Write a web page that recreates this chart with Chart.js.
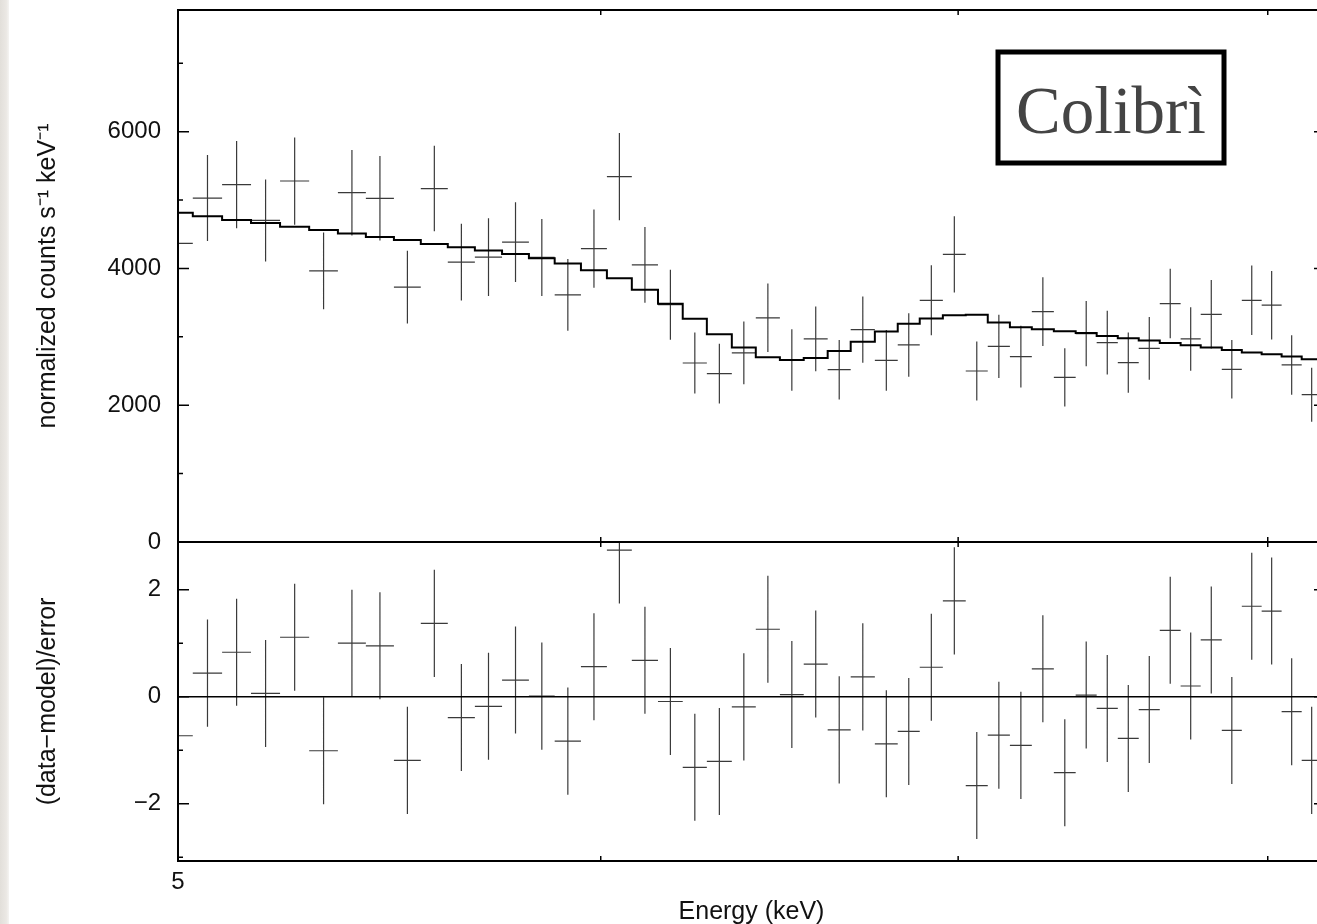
<!DOCTYPE html>
<html lang="en">
<head>
<meta charset="UTF-8">
<title>Colibrì spectrum</title>
<script src="https://cdn.jsdelivr.net/npm/chart.js"></script>
<style>
    html, body { margin: 0; padding: 0; background: white; overflow: hidden; }
    #wrap { position: relative; width: 1317px; height: 924px; overflow: hidden; }
    #spectrum { position: absolute; left: 0; top: 0; }
    #edge {
        position: absolute; left: 0; top: 0; width: 9px; height: 924px;
        background: linear-gradient(to right, #e2dfda, #ebe8e4 70%, #f5f4f2);
    }
</style>
</head>
<body>
<div id="wrap">
    <canvas id="spectrum" width="1330" height="924"></canvas>
    <div id="edge"></div>
</div>
<script>
// channel bin edges (keV), one more than the number of bins
const binEdges = [4.968, 5.032, 5.096, 5.160, 5.225, 5.291, 5.357, 5.422, 5.488, 5.552,
    5.617, 5.683, 5.750, 5.817, 5.882, 5.949, 6.016, 6.081, 6.150, 6.216,
    6.281, 6.349, 6.415, 6.482, 6.549, 6.617, 6.683, 6.753, 6.820, 6.885,
    6.954, 7.023, 7.090, 7.158, 7.226, 7.295, 7.364, 7.431, 7.499, 7.567,
    7.636, 7.705, 7.772, 7.843, 7.911, 7.979, 8.048, 8.118, 8.188];

// normalized counts s^-1 keV^-1
const counts = [4366, 5030, 5226, 4703, 5279, 3966, 5109, 5026, 3726, 5168,
    4092, 4166, 4385, 4161, 3615, 4289, 5343, 4054, 3470, 2618,
    2462, 2765, 3278, 2662, 2970, 2520, 3106, 2656, 2882, 3535,
    4205, 2501, 2862, 2711, 3370, 2408, 3048, 2916, 2623, 2833,
    3487, 2970, 3330, 2525, 3535, 3463, 2589, 2154];
const countErr = [620, 628, 638, 600, 638, 561, 625, 618, 532, 625,
    562, 567, 582, 562, 525, 572, 638, 554, 513, 447,
    436, 459, 501, 451, 474, 435, 484, 445, 464, 513,
    557, 430, 462, 450, 503, 425, 476, 465, 440, 459,
    509, 464, 500, 428, 508, 500, 435, 394];
const model = [4816, 4762, 4708, 4664, 4611, 4561, 4513, 4459, 4415, 4359,
    4312, 4264, 4210, 4151, 4073, 3975, 3858, 3688, 3484, 3263,
    3037, 2843, 2700, 2662, 2692, 2794, 2930, 3077, 3190, 3267,
    3316, 3322, 3209, 3140, 3111, 3081, 3058, 3014, 2979, 2945,
    2911, 2876, 2843, 2809, 2773, 2744, 2711, 2671];

// (data-model)/error, error bars are +-1 by definition
const resid = [-0.73, 0.44, 0.83, 0.06, 1.11, -1.01, 1.00, 0.95, -1.19, 1.37,
    -0.39, -0.18, 0.31, 0.01, -0.83, 0.56, 2.74, 0.68, -0.09, -1.32,
    -1.21, -0.19, 1.26, 0.04, 0.61, -0.62, 0.37, -0.88, -0.65, 0.55,
    1.79, -1.66, -0.72, -0.91, 0.52, -1.42, 0.03, -0.22, -0.78, -0.24,
    1.24, 0.20, 1.06, -0.63, 1.69, 1.60, -0.28, -1.19];

const energyMin = 5, energyMax = 8.2;
const energyTicks = [5, 6, 7, 8];
const countTicks = [0, 2000, 4000, 6000];
const countMinor = [1000, 3000, 5000, 7000];
const residTicks = [-2, 0, 2];
const residMinor = [-3, -1, 1];

const font = '"Liberation Sans", Arial, sans-serif';
Chart.defaults.font.family = font;
Chart.defaults.color = '#111';

// crosses: horizontal bar over the bin, vertical bar over the error, split by gaps
function crosses(vals, errs) {
    const pts = [];
    vals.forEach((v, i) => {
        const e = errs ? errs[i] : 1;
        const c = (binEdges[i] + binEdges[i + 1]) / 2;
        pts.push({x: binEdges[i], y: v}, {x: binEdges[i + 1], y: v}, {x: c, y: null});
        pts.push({x: c, y: v - e}, {x: c, y: v + e}, {x: c, y: null});
    });
    return pts;
}

const modelSteps = model.map((v, i) => ({x: binEdges[i], y: v}));
modelSteps.push({x: binEdges[model.length], y: model[model.length - 1]});

// keep each dataset inside its own panel
const panelClip = {
    id: 'panelClip',
    beforeDatasetDraw(chart, args) {
        const s = chart.scales[args.meta.yAxisID];
        const a = chart.chartArea;
        chart.ctx.save();
        chart.ctx.beginPath();
        chart.ctx.rect(a.left, s.top, a.right - a.left, s.bottom - s.top);
        chart.ctx.clip();
    },
    afterDatasetDraw(chart) {
        chart.ctx.restore();
    }
};

// box frame, inward ticks and the label
const frame = {
    id: 'frame',
    afterDatasetsDraw(chart) {
        const {ctx, chartArea: a, scales} = chart;
        const x = scales.x, yt = scales.yTop, yb = scales.yBot;
        ctx.save();
        ctx.strokeStyle = '#000';
        ctx.lineWidth = 2;
        ctx.strokeRect(a.left, a.top, a.right - a.left, a.bottom - a.top);
        ctx.beginPath();
        ctx.moveTo(a.left, yt.bottom);
        ctx.lineTo(a.right, yt.bottom);
        ctx.stroke();

        ctx.lineWidth = 1.5;
        const yMarks = (s, vals, len) => vals.forEach(v => {
            const p = s.getPixelForValue(v);
            ctx.beginPath();
            ctx.moveTo(a.left, p); ctx.lineTo(a.left + len, p);
            ctx.moveTo(a.right, p); ctx.lineTo(a.right - len, p);
            ctx.stroke();
        });
        yMarks(yt, countTicks, 11);
        yMarks(yt, countMinor, 5);
        yMarks(yb, residTicks, 11);
        yMarks(yb, residMinor, 5);
        energyTicks.forEach(v => {
            const p = x.getPixelForValue(v);
            [[yt.top, 5], [yt.bottom, -5], [yb.top, 5], [yb.bottom, -5]].forEach(([y0, d]) => {
                ctx.beginPath();
                ctx.moveTo(p, y0); ctx.lineTo(p, y0 + d);
                ctx.stroke();
            });
        });

        // "Colibrì" label box
        const bx = a.right - 327, by = a.top + 42, bw = 226, bh = 111;
        ctx.lineWidth = 5;
        ctx.strokeRect(bx, by, bw, bh);
        ctx.fillStyle = '#444';
        ctx.font = '67px "Liberation Serif", serif';
        ctx.textAlign = 'center';
        ctx.textBaseline = 'alphabetic';
        ctx.fillText('Colibrì', bx + bw / 2, by + 81);
        ctx.restore();
    }
};

const tickFont = {family: font, size: 24};
const titleFont = {family: font, size: 25};

new Chart(document.getElementById('spectrum'), {
    type: 'scatter',
    data: {
        datasets: [
            {
                label: 'model',
                data: modelSteps,
                yAxisID: 'yTop',
                showLine: true,
                stepped: 'before',
                borderColor: '#000',
                borderWidth: 2,
                pointRadius: 0
            },
            {
                label: 'data',
                data: crosses(counts, countErr),
                yAxisID: 'yTop',
                showLine: true,
                spanGaps: false,
                borderColor: '#3a3a3a',
                borderWidth: 1.2,
                pointRadius: 0
            },
            {
                label: 'zero',
                data: [{x: energyMin, y: 0}, {x: energyMax, y: 0}],
                yAxisID: 'yBot',
                showLine: true,
                borderColor: '#000',
                borderWidth: 1.5,
                pointRadius: 0
            },
            {
                label: 'residuals',
                data: crosses(resid, null),
                yAxisID: 'yBot',
                showLine: true,
                spanGaps: false,
                borderColor: '#3a3a3a',
                borderWidth: 1.2,
                pointRadius: 0
            }
        ]
    },
    options: {
        responsive: false,
        animation: false,
        devicePixelRatio: 1,
        layout: {padding: {left: 10, top: 10, right: 5, bottom: 0}},
        plugins: {
            legend: {display: false},
            tooltip: {enabled: false}
        },
        scales: {
            x: {
                type: 'logarithmic',
                min: energyMin,
                max: energyMax,
                grid: {display: false, drawTicks: false},
                border: {display: false},
                afterBuildTicks: s => { s.ticks = energyTicks.map(v => ({value: v})); },
                ticks: {
                    autoSkip: false,
                    maxRotation: 0,
                    padding: 7,
                    font: tickFont,
                    callback: v => v === energyTicks[0] ? String(v) : ''
                },
                title: {display: true, text: 'Energy (keV)', font: titleFont, padding: {top: 2, bottom: -3}},
                afterFit: s => { s.height = 63; s.paddingLeft = 0; s.paddingRight = 0; }
            },
            // left boxes stack in reverse order, so the residual panel is declared first
            yBot: {
                type: 'linear',
                position: 'left',
                stack: 'panels',
                stackWeight: 319,
                min: -3.07,
                max: 2.89,
                grid: {display: false, drawTicks: false},
                border: {display: false},
                afterBuildTicks: s => { s.ticks = residTicks.map(v => ({value: v})); },
                ticks: {padding: 17, font: tickFont, callback: v => v < 0 ? '−' + Math.abs(v) : String(v)},
                title: {display: true, text: '(data−model)/error', font: titleFont, padding: {top: 23, bottom: 0}},
                afterFit: s => { s.width = 168; s.paddingTop = 0; s.paddingBottom = 0; }
            },
            yTop: {
                type: 'linear',
                position: 'left',
                stack: 'panels',
                stackWeight: 532,
                min: 0,
                max: 7780,
                grid: {display: false, drawTicks: false},
                border: {display: false},
                afterBuildTicks: s => { s.ticks = countTicks.map(v => ({value: v})); },
                ticks: {padding: 17, font: tickFont, callback: v => String(v)},
                title: {display: true, text: 'normalized counts s⁻¹ keV⁻¹', font: titleFont, padding: {top: 23, bottom: 0}},
                afterFit: s => { s.width = 168; s.paddingTop = 0; s.paddingBottom = 0; }
            }
        }
    },
    plugins: [panelClip, frame]
});
</script>
</body>
</html>
